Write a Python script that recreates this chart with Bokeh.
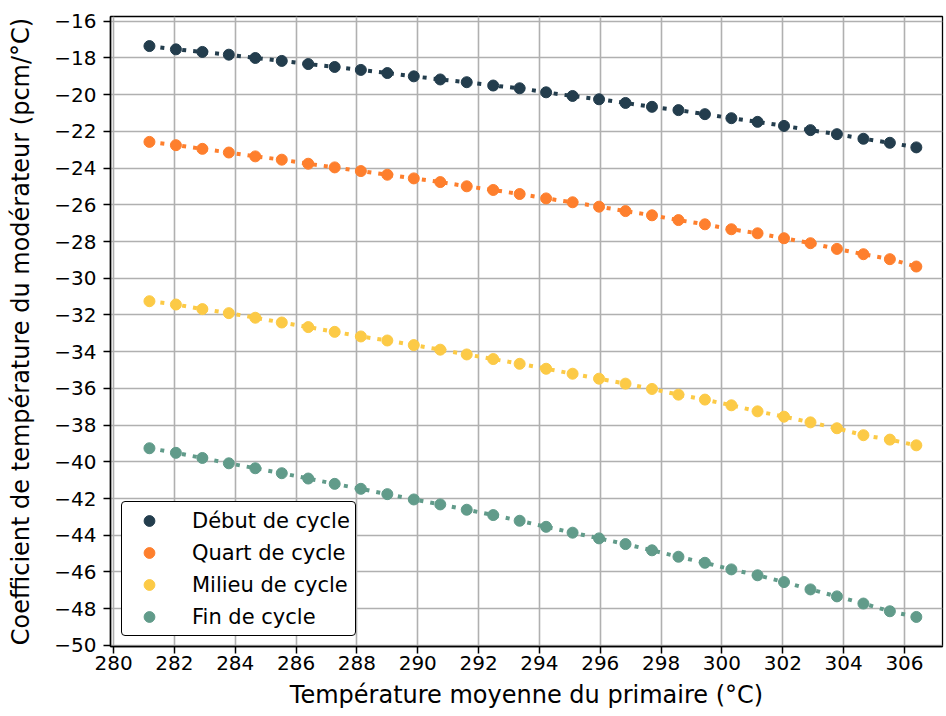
from bokeh.plotting import figure
from bokeh.models import Range1d, FixedTicker, Legend, LegendItem
from bokeh.embed import file_html
from bokeh.resources import INLINE

# ---- data ----
temperature = [281.18, 282.05, 282.92, 283.79, 284.66, 285.53, 286.40, 287.27, 288.13, 289.00,
               289.87, 290.74, 291.61, 292.48, 293.35, 294.22, 295.09, 295.96, 296.83, 297.70,
               298.57, 299.44, 300.31, 301.17, 302.04, 302.91, 303.78, 304.65, 305.52, 306.39]
debut = [-17.35, -17.53, -17.67, -17.82, -18.00, -18.16, -18.33, -18.49, -18.65, -18.82,
         -19.00, -19.17, -19.32, -19.50, -19.65, -19.87, -20.07, -20.25, -20.45, -20.66,
         -20.84, -21.06, -21.28, -21.48, -21.70, -21.93, -22.15, -22.40, -22.62, -22.87]
quart = [-22.57, -22.75, -22.95, -23.15, -23.36, -23.54, -23.76, -23.96, -24.16, -24.36,
         -24.56, -24.76, -24.99, -25.19, -25.41, -25.65, -25.86, -26.10, -26.34, -26.57,
         -26.83, -27.06, -27.33, -27.55, -27.82, -28.09, -28.40, -28.69, -28.96, -29.36]
milieu = [-31.25, -31.43, -31.68, -31.90, -32.15, -32.41, -32.66, -32.92, -33.17, -33.39,
          -33.64, -33.89, -34.15, -34.40, -34.66, -34.93, -35.20, -35.47, -35.74, -36.03,
          -36.34, -36.61, -36.92, -37.25, -37.54, -37.85, -38.17, -38.55, -38.79, -39.10]
fin = [-39.26, -39.51, -39.79, -40.08, -40.35, -40.62, -40.91, -41.20, -41.47, -41.76,
       -42.05, -42.32, -42.61, -42.90, -43.21, -43.54, -43.86, -44.17, -44.48, -44.82,
       -45.17, -45.50, -45.86, -46.18, -46.55, -46.95, -47.33, -47.72, -48.14, -48.45]
series_names = ["Début de cycle", "Quart de cycle", "Milieu de cycle", "Fin de cycle"]
series_values = [debut, quart, milieu, fin]
colors = ["#233d4d", "#fe7f2d", "#fcca46", "#619b8a"]
x_ticks = list(range(280, 307, 2))
y_ticks = list(range(-50, -15, 2))
x_label = "Température moyenne du primaire (°C)"
y_label = "Coefficient de température du modérateur (pcm/°C)"

FONT = "DejaVu Sans"

p = figure(width=944, height=716, output_backend="svg", toolbar_location=None,
           x_range=Range1d(279.9, 307.25), y_range=Range1d(-50.06, -15.74),
           min_border_left=110, min_border_right=2, min_border_top=16, min_border_bottom=70,
           background_fill_color="white", border_fill_color="white")

p.outline_line_color = "black"
p.outline_line_width = 1.3
p.outline_line_alpha = 1.0

p.xaxis.ticker = FixedTicker(ticks=x_ticks)
p.yaxis.ticker = FixedTicker(ticks=y_ticks)
p.yaxis.major_label_overrides = {t: "\u2212" + str(abs(t)) for t in y_ticks}
p.xgrid.ticker = FixedTicker(ticks=x_ticks)
p.ygrid.ticker = FixedTicker(ticks=y_ticks)
for g in (p.xgrid, p.ygrid):
    g.grid_line_color = "#b0b0b0"
    g.grid_line_width = 1.6

for ax in (p.xaxis, p.yaxis):
    ax.axis_line_color = "black"
    ax.axis_line_width = 1.5
    ax.major_tick_line_color = "black"
    ax.major_tick_line_width = 1.5
    ax.major_tick_out = 7
    ax.major_tick_in = 0
    ax.minor_tick_line_color = None
    ax.major_label_text_font = FONT
    ax.major_label_text_font_size = "20px"
    ax.major_label_text_color = "black"
    ax.axis_label_text_font = FONT
    ax.axis_label_text_font_size = "24px"
    ax.axis_label_text_font_style = "normal"
    ax.axis_label_text_color = "black"

p.xaxis.axis_label = x_label
p.yaxis.axis_label = y_label
p.xaxis.major_label_standoff = 2
p.xaxis.axis_label_standoff = 8
p.yaxis.major_label_standoff = 7
p.yaxis.axis_label_standoff = 16

items = []
for name, vals, c in zip(series_names, series_values, colors):
    p.line(temperature, vals, line_color=c, line_width=4, line_dash="4 7")
    r = p.scatter(temperature, vals, size=11, fill_color=c, line_color=c)
    items.append(LegendItem(label=name, renderers=[r]))

legend = Legend(items=items, location=(11, 10),
                padding=5, spacing=5, glyph_width=44, glyph_height=27,
                label_height=27, label_standoff=21,
                label_text_font=FONT, label_text_font_size="21px",
                label_text_color="black",
                border_line_color="black", border_line_width=1.8, border_line_alpha=1.0,
                border_radius=4,
                background_fill_color="white", background_fill_alpha=1.0)
p.add_layout(legend)

open("out.html", "w").write(file_html(p, INLINE))
